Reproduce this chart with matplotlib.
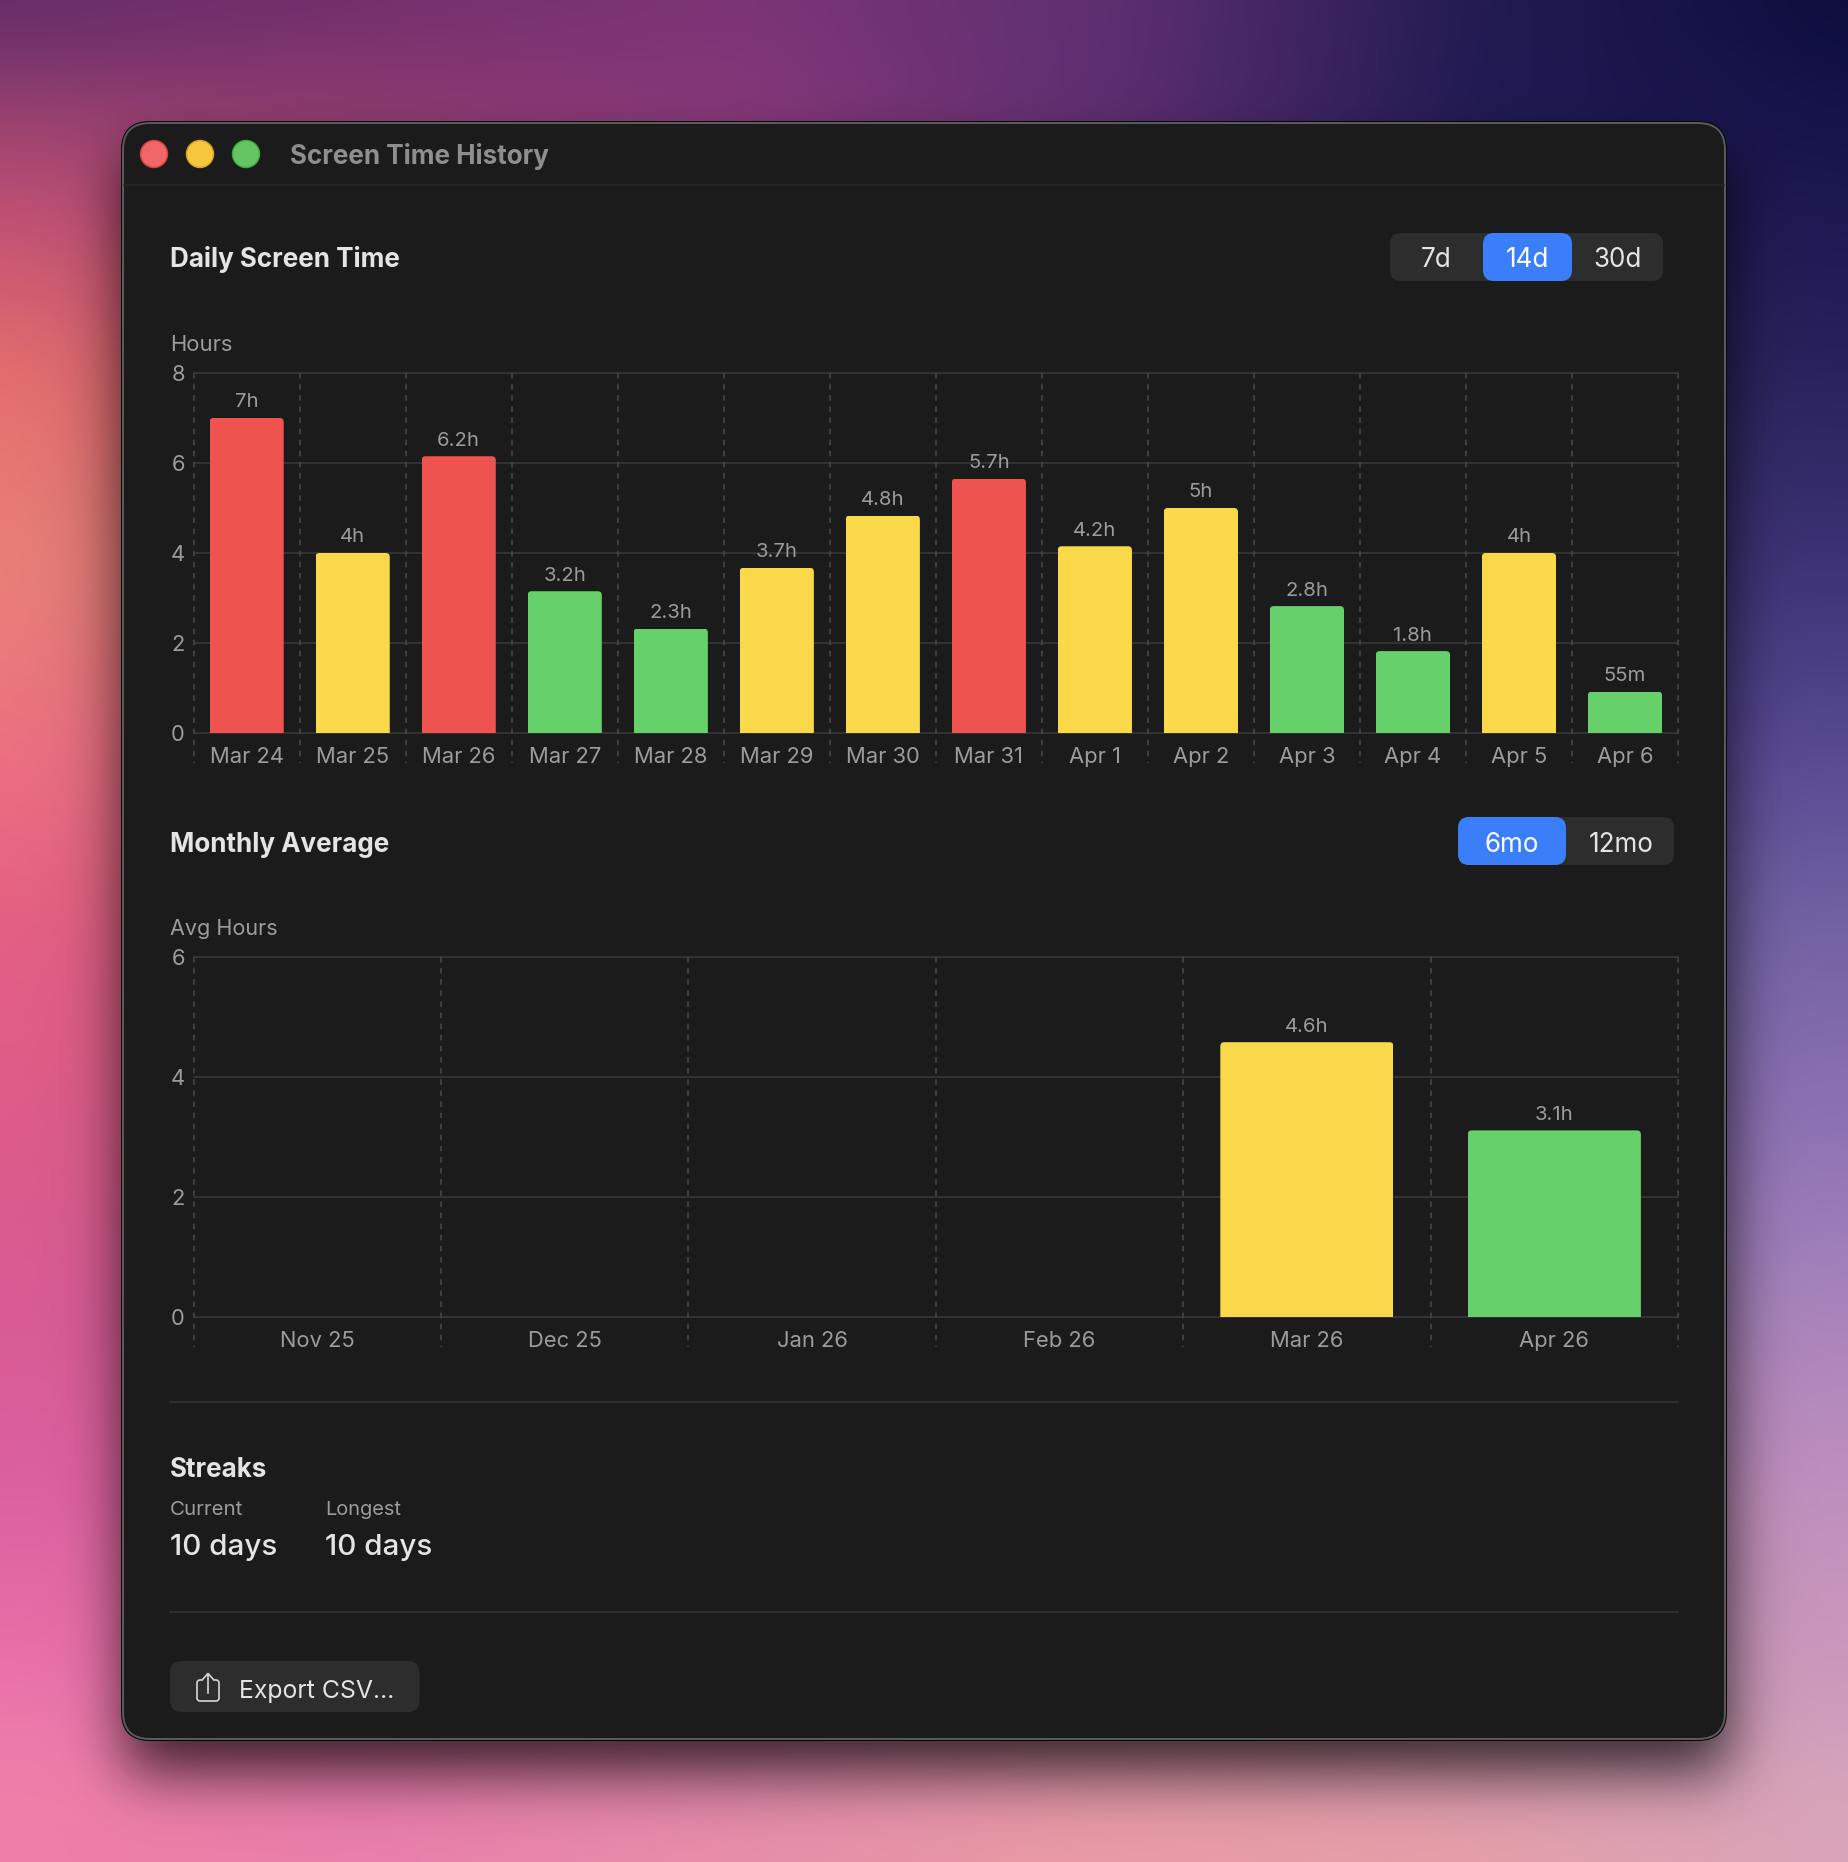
import math
import numpy as np
import matplotlib
matplotlib.use("Agg")
import matplotlib.pyplot as plt
from matplotlib.patches import FancyBboxPatch, Circle
from matplotlib.transforms import IdentityTransform
from matplotlib.colors import to_rgb

plt.rcParams['font.family'] = ['Inter', 'DejaVu Sans']
plt.rcParams['lines.scale_dashes'] = False

# ---------- data ----------
daily_dates = ["Mar 24", "Mar 25", "Mar 26", "Mar 27", "Mar 28", "Mar 29", "Mar 30",
               "Mar 31", "Apr 1", "Apr 2", "Apr 3", "Apr 4", "Apr 5", "Apr 6"]
daily_hours = [7.0, 4.0, 6.15, 3.15, 2.32, 3.67, 4.83, 5.65, 4.15, 5.0, 2.82, 1.82, 4.0, 0.92]
daily_labels = ["7h", "4h", "6.2h", "3.2h", "2.3h", "3.7h", "4.8h", "5.7h", "4.2h", "5h",
                "2.8h", "1.8h", "4h", "55m"]
daily_levels = ["r", "y", "r", "g", "g", "y", "y", "r", "y", "y", "g", "g", "y", "g"]
daily_yticks = [0, 2, 4, 6, 8]

month_names = ["Nov 25", "Dec 25", "Jan 26", "Feb 26", "Mar 26", "Apr 26"]
month_hours = [0, 0, 0, 0, 4.58, 3.11]
month_labels = ["", "", "", "", "4.6h", "3.1h"]
month_levels = ["g", "g", "g", "g", "y", "g"]
month_yticks = [0, 2, 4, 6]

LEVEL = {"r": "#EE5350", "y": "#F9D849", "g": "#66D06A"}

W, H = 1848, 1862
WIN = (122, 122, 1726, 1740)   # window l, t, r, b
GRID = "#3A3A3A"
DASH = "#474747"
MUTED = "#9C9C9C"
BRIGHT = "#E4E4E4"

fig = plt.figure(figsize=(W / 100, H / 100), dpi=100)
bg = fig.add_axes([0, 0, 1, 1])
bg.axis("off")

# ---------- wallpaper ----------
ys = [0, .055, .11, .2, .3, .4, .5, .6, .7, .8, .9, .95, 1]
xs = [0, .2, .4, .6, .8, 1]
cols = """5f2a68 722f6c 7b3476 5e3070 221b52 0c0d3a
94406f 8c3a70 86387c 5c2e70 1f1a52 14124a
bf4f74 a84a72 8e3a78 6a3070 241c58 1c1850
e8706e b05068 8a4070 604080 302860 28225c
ec8278 b06468 804878 604884 40347a 3c3274
ef7282 c06070 904c78 70508c 584698 564a90
e65f84 c05a78 a0507c 80609c 7060a8 7463a4
de5c8a c85a80 b05c88 9068a4 8870b0 8d72b4
d95b94 c85a8c b85f90 a874a8 a07fb8 a884bc
dc60a0 d864a0 cc6c9c c07c9c bc88b0 c090bf
ea72a8 e070a8 d878a8 d08ca8 c898b4 cc98bc
ef80ac e87cac e088ac e098a8 dc9cb0 d4a4bc
ef80a4 ea80ac e890a8 ec9ca4 e6a0a8 d8a4b8"""
grid_rgb = np.array([[to_rgb("#" + c) for c in row.split()] for row in cols.split("\n")])
u = (np.arange(W) + .5) / W
v = (np.arange(H) + .5) / H
tmp = np.stack([[np.interp(u, xs, grid_rgb[r, :, c]) for c in range(3)] for r in range(len(ys))])
img = np.zeros((H, W, 3))
for c in range(3):
    for xi in range(W):
        img[:, xi, c] = np.interp(v, ys, tmp[:, c, xi])
def box(a, n, axis):
    k = np.ones(n) / n
    pad = [(0, 0)] * a.ndim
    pad[axis] = (n // 2, n - n // 2 - 1)
    return np.apply_along_axis(lambda m: np.convolve(m, k, mode="valid"), axis, np.pad(a, pad, mode="edge"))
small = img[::6, ::6]
for _ in range(2):
    small = box(box(small, 15, 0), 15, 1)
# shadow
erf = np.vectorize(math.erf)
def prof(t, a, b, s):
    return .5 * (erf((t - a) / (s * 2 ** .5)) - erf((t - b) / (s * 2 ** .5)))
sx = prof(np.arange(0, W, 6) + .0, WIN[0], WIN[2], 29)
sy = prof(np.arange(0, H, 6) + .0, WIN[1] + 32, WIN[3] + 32, 30)
shadow = 1 - .75 * np.outer(sy, sx)
bg.imshow(small * shadow[..., None], extent=[0, W, H, 0], aspect="auto", interpolation="bilinear", zorder=0)
bg.set_xlim(0, W)
bg.set_ylim(H, 0)

# ---------- window chrome ----------
def rrect(x0, y0, x1, y1, r, fc, ec="none", lw=0, z=1):
    p = FancyBboxPatch((x0, y0), x1 - x0, y1 - y0, boxstyle=f"round,pad=0,rounding_size={r}",
                       fc=fc, ec=ec, lw=lw * .72, zorder=z)
    bg.add_patch(p)
    return p

l, t, r_, b = WIN
rrect(l - 1, t - 1, r_ + 1, b + 1, 29, "#050505", z=1)
rrect(l + 1, t + 1, r_ - 1, b - 1, 27, "#1B1B1B", ec="#5A5A5A", lw=2, z=2)
bg.plot([l + 2, r_ - 2], [185, 185], color="#282828", lw=1.5 * .72, zorder=3)
for cx, fc, ec in [(154, "#F16666", "#D6423E"), (200, "#F5C83F", "#DDA224"), (246, "#63C663", "#41AB42")]:
    bg.add_patch(Circle((cx, 154), 13.5, fc=fc, ec=ec, lw=1, zorder=3))

def T(x, cy, s, px, color=MUTED, ha="left", weight="normal"):
    bg.text(x, cy + .3635 * px, s, fontsize=px * .72, color=color, ha=ha, va="baseline",
            fontweight=weight, zorder=5)

T(290, 155, "Screen Time History", 26, "#8E8E8E", weight="bold")
T(170, 258, "Daily Screen Time", 26, BRIGHT, weight="bold")
T(170, 343, "Hours", 22)
T(170, 843, "Monthly Average", 26, BRIGHT, weight="bold")
T(170, 927, "Avg Hours", 21.6)

# segmented controls
rrect(1390, 233, 1663, 281, 11, "#2D2D2D", z=3)
rrect(1483, 233, 1572, 281, 11, "#3B7EFA", z=4)
T(1436, 258, "7d", 26, BRIGHT, "center")
T(1527, 258, "14d", 26, "#FFFFFF", "center")
T(1618, 258, "30d", 26, BRIGHT, "center")
rrect(1458, 817, 1674, 865, 11, "#2D2D2D", z=3)
rrect(1458, 817, 1566, 865, 11, "#3B7EFA", z=4)
T(1512, 842.5, "6mo", 26, "#FFFFFF", "center")
T(1621, 842.5, "12mo", 26, BRIGHT, "center")

# dividers
bg.plot([170, 1678], [1401.5, 1401.5], color="#333333", lw=1.5 * .72, zorder=3)
bg.plot([170, 1678], [1612, 1612], color="#333333", lw=1.5 * .72, zorder=3)

# streaks
T(170, 1468, "Streaks", 26, BRIGHT, weight="bold")
T(170, 1508, "Current", 20.5)
T(325, 1508, "Longest", 20)
T(170, 1544, "10 days", 29.6, BRIGHT, weight="medium")
T(325, 1544, "10 days", 29.6, BRIGHT, weight="medium")

# export button
rrect(170, 1661, 419.5, 1712, 12, "#2D2D2D", z=3)
T(239, 1688.5, "Export CSV...", 24.8, BRIGHT)
ic = "#DCDCDC"
iconlw = 1.6 * .72
rrect_icon = FancyBboxPatch((197, 1680), 22, 21, boxstyle="round,pad=0,rounding_size=3", fc="none", ec=ic, lw=iconlw, zorder=5)
bg.add_patch(rrect_icon)
bg.add_patch(plt.Rectangle((203, 1677), 10, 6, fc="#2D2D2D", ec="none", zorder=5))
bg.plot([208, 208], [1674, 1693], color=ic, lw=iconlw, zorder=6)
bg.plot([203, 208, 213], [1679, 1673.5, 1679], color=ic, lw=iconlw, zorder=6)

# ---------- charts ----------
def chart(top, bottom, names, values, labels, levels, yticks):
    L, R = 193.6, 1678
    ax = fig.add_axes([L / W, 1 - bottom / H, (R - L) / W, (bottom - top) / H])
    ax.patch.set_alpha(0)
    for s in ax.spines.values():
        s.set_visible(False)
    n = len(names)
    ymax = yticks[-1]
    ax.set_xlim(-.5, n - .5)
    ax.set_ylim(0, ymax)
    ax.set_yticks(yticks)
    ax.set_xticks(range(n), names)
    ax.tick_params(axis="y", length=0, pad=6.2, labelsize=15.8, labelcolor=MUTED)
    ax.tick_params(axis="x", length=0, pad=10.0, labelsize=15.8, labelcolor=MUTED)
    ax.set_axisbelow(True)
    ax.yaxis.grid(True, color=GRID, lw=1.5 * .72, clip_on=False)
    ext = -30 / ((bottom - top) / ymax)
    ax.vlines(np.arange(n + 1) - .5, ymax, ext, color=DASH, lw=1.6 * .72,
              linestyles=[(0, (4.0, 4.0))], clip_on=False, zorder=1)
    bars = ax.bar(range(n), values, width=.7, color=[LEVEL[k] for k in levels], zorder=2)
    fig.canvas.draw()
    for bar, val, lab in zip(bars, values, labels):
        if val <= 0:
            continue
        (x0, y0), (x1, y1) = ax.transData.transform([(bar.get_x(), 0), (bar.get_x() + bar.get_width(), val)])
        clip = FancyBboxPatch((x0, y0 - 20), x1 - x0, y1 - y0 + 20,
                              boxstyle="round,pad=0,rounding_size=4", transform=IdentityTransform())
        bar.set_clip_path(clip)
        ax.annotate(lab, (bar.get_x() + bar.get_width() / 2, val), xytext=(0, 7.6),
                    textcoords="offset points", ha="center", va="baseline",
                    fontsize=14.6, color=MUTED, zorder=3)
    return ax

chart(373, 733, daily_dates, daily_hours, daily_labels, daily_levels, daily_yticks)
chart(957, 1317, month_names, month_hours, month_labels, month_levels, month_yticks)

fig.savefig("out.png", dpi=100)
